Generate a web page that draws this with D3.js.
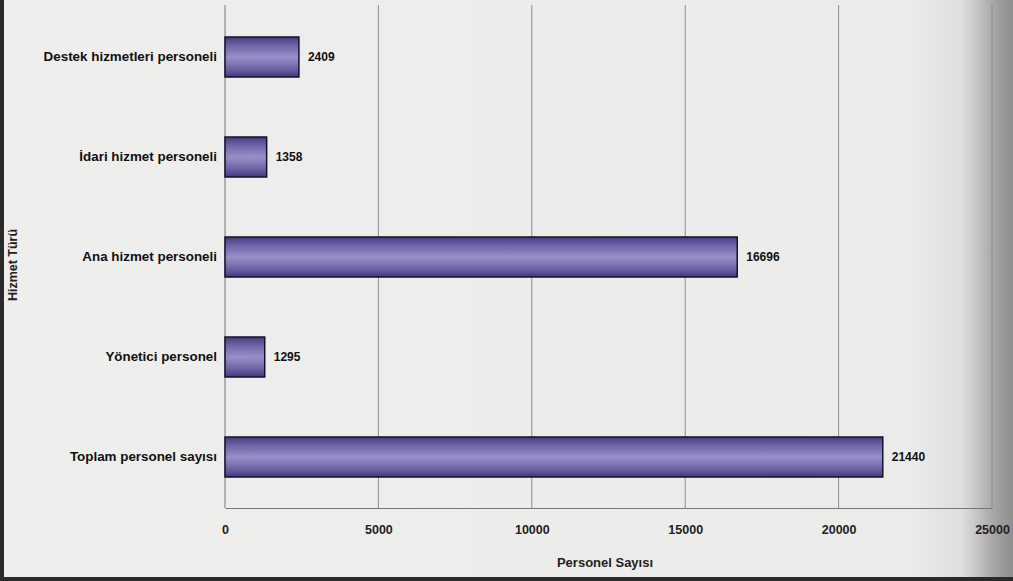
<!DOCTYPE html>
<html><head><meta charset="utf-8">
<script src="https://cdn.jsdelivr.net/npm/d3@7"></script>
<style>html,body{margin:0;padding:0;background:#ebebea;}svg{display:block;}</style>
</head><body>
<svg id="c" width="1013" height="581"></svg>
<script>
const categories = ["Destek hizmetleri personeli","İdari hizmet personeli","Ana hizmet personeli","Yönetici personel","Toplam personel sayısı"];
const values = [2409, 1358, 16696, 1295, 21440];
const xTicks = [0, 5000, 10000, 15000, 20000, 25000];
const xTitle = "Personel Sayısı";
const yTitle = "Hizmet Türü";

const svg = d3.select("#c");
const W = 1013, H = 581;
const FONT = "Liberation Sans, Arial, sans-serif";
const defs = svg.append("defs");
const bg = defs.append("linearGradient").attr("id","bg").attr("x1","0").attr("x2","1").attr("y1","0").attr("y2","0");
bg.append("stop").attr("offset","0").attr("stop-color","#eeeeed");
bg.append("stop").attr("offset","0.9").attr("stop-color","#ebebea");
bg.append("stop").attr("offset","0.95").attr("stop-color","#e0dddf");
bg.append("stop").attr("offset","0.985").attr("stop-color","#a0a0a0");
bg.append("stop").attr("offset","1").attr("stop-color","#8e8e8e");
svg.append("rect").attr("width",W).attr("height",H).attr("fill","url(#bg)");
// page edges (photo)
svg.append("rect").attr("x",0).attr("y",0).attr("width",4).attr("height",H).attr("fill","#2a2a2a");
svg.append("rect").attr("x",0).attr("y",577).attr("width",W).attr("height",4).attr("fill","#2a2a2a");

const bar = defs.append("linearGradient").attr("id","bar").attr("x1","0").attr("x2","0").attr("y1","0").attr("y2","1");
bar.append("stop").attr("offset","0").attr("stop-color","#463c7c");
bar.append("stop").attr("offset","0.2").attr("stop-color","#6c62a6");
bar.append("stop").attr("offset","0.5").attr("stop-color","#9990c8");
bar.append("stop").attr("offset","0.8").attr("stop-color","#6c62a6");
bar.append("stop").attr("offset","1").attr("stop-color","#41377a");

const x = d3.scaleLinear().domain([0, 25000]).range([225, 992]);
const y = d3.scaleBand().domain(categories).range([7, 507]).paddingInner(0.6).paddingOuter(0.3);

// gridlines
svg.append("g").selectAll("line").data(xTicks.slice(1)).join("line")
  .attr("x1", d => x(d)).attr("x2", d => x(d)).attr("y1", 5).attr("y2", 508)
  .attr("stroke", "#8e8e8e").attr("stroke-width", 1);

// axes
const xAxis = d3.axisBottom(x).tickValues(xTicks).tickSize(0).tickPadding(17).tickFormat(d3.format("d"));
const gx = svg.append("g").attr("transform","translate(0,508)").call(xAxis);
gx.select(".domain").attr("stroke","#777").attr("stroke-width",1);
gx.selectAll("text").attr("font-family",FONT).attr("font-weight","bold").attr("font-size",12.5).attr("fill","#222");

const yAxis = d3.axisLeft(y).tickSize(0).tickPadding(8);
const gy = svg.append("g").attr("transform","translate(225,0)").call(yAxis);
gy.select(".domain").attr("stroke","#777").attr("stroke-width",1).attr("d","M0,5V508");
gy.selectAll("text").attr("font-family",FONT).attr("font-weight","bold").attr("font-size",13.4).attr("fill","#111");

// bars
svg.append("g").selectAll("rect").data(categories).join("rect")
  .attr("x", x(0)).attr("y", d => y(d))
  .attr("width", (d,i) => x(values[i]) - x(0)).attr("height", y.bandwidth())
  .attr("fill","url(#bar)").attr("stroke","#15122a").attr("stroke-width",1.5);

// value labels
svg.append("g").selectAll("text").data(categories).join("text")
  .attr("x", (d,i) => x(values[i]) + 9).attr("y", d => y(d) + y.bandwidth()/2)
  .attr("dy","0.35em")
  .attr("font-family",FONT).attr("font-weight","bold").attr("font-size",12).attr("fill","#111")
  .text((d,i) => values[i]);

// titles
svg.append("text").attr("x", 605).attr("y", 567).attr("text-anchor","middle")
  .attr("font-family",FONT).attr("font-weight","bold").attr("font-size",13).attr("fill","#222")
  .text(xTitle);
svg.append("text").attr("transform","translate(17,265) rotate(-90)").attr("text-anchor","middle")
  .attr("font-family",FONT).attr("font-weight","bold").attr("font-size",12.5).attr("fill","#222")
  .text(yTitle);
</script>
</body></html>
